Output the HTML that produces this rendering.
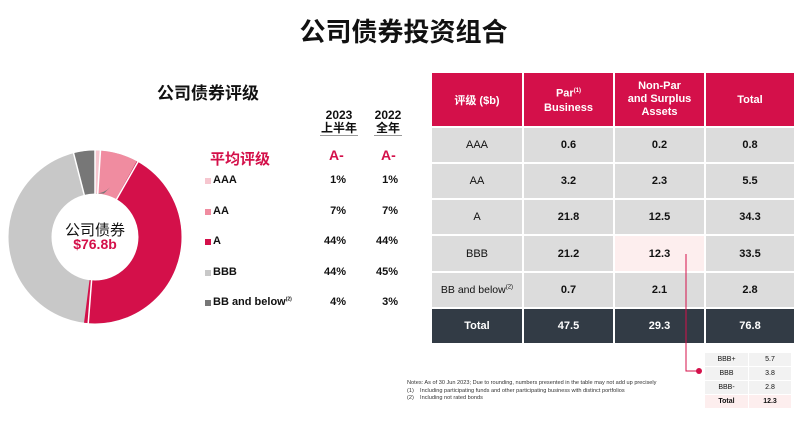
<!DOCTYPE html>
<html><head><meta charset="utf-8"><style>
*{margin:0;padding:0;box-sizing:border-box}
body{width:807px;height:421px;background:#fff;position:relative;overflow:hidden;font-family:"Liberation Sans","Noto Sans CJK SC",sans-serif;color:#111}
.a{position:absolute;white-space:nowrap}
.b{font-weight:bold}
.sq{position:absolute;width:6px;height:6px}
.c{position:absolute;display:flex;align-items:center;justify-content:center;text-align:center;font-size:11px}
.r{position:absolute;width:48px;text-align:right;font-size:11px;font-weight:bold}
</style></head><body>
<div class="a b" style="left:0;width:807px;text-align:center;top:12px;font-size:26px">公司债券投资组合</div>
<div class="a b" style="left:157px;top:79px;font-size:17px">公司债券评级</div>

<svg class="a" style="left:0;top:0" width="200" height="340" viewBox="0 0 200 340">
<g transform="rotate(-90 95 237)" fill="none" stroke-width="43">
<circle cx="95" cy="237" r="65" stroke="#c8c8c8" stroke-dasharray="408.4 0"/>
<circle cx="95" cy="237" r="65" stroke="#f6c6cf" stroke-dasharray="4.08 404.3" stroke-dashoffset="0"/>
<circle cx="95" cy="237" r="65" stroke="#f08ca0" stroke-dasharray="28.6 379.8" stroke-dashoffset="-4.08"/>
<circle cx="95" cy="237" r="65" stroke="#d4104a" stroke-dasharray="179.7 228.7" stroke-dashoffset="-32.7"/>
<circle cx="95" cy="237" r="65" stroke="#777" stroke-dasharray="16.3 392.1" stroke-dashoffset="-392.1"/>
</g>
<g stroke="#fff" stroke-width="1.5">
<line x1="95" y1="237" x2="95" y2="148"/>
<line x1="95" y1="237" x2="100.6" y2="148.2"/>
<line x1="95" y1="237" x2="139" y2="160"/>
<line x1="95" y1="237" x2="88" y2="326"/>
<line x1="95" y1="237" x2="73" y2="151"/>
</g>
<circle cx="95" cy="237" r="43" fill="#fff"/>
</svg>
<div class="a" style="left:55px;width:80px;text-align:center;top:219px;font-size:15px">公司债券</div>
<div class="a b" style="left:55px;width:80px;text-align:center;top:236px;font-size:14px;color:#d4104a">$76.8b</div>

<div class="a b" style="left:320px;width:38px;text-align:center;top:109px;font-size:12px;line-height:13px;border-bottom:1px solid #999">2023<br>上半年</div>
<div class="a b" style="left:374px;width:28px;text-align:center;top:109px;font-size:12px;line-height:13px;border-bottom:1px solid #999">2022<br>全年</div>
<div class="a b" style="left:210px;top:148px;font-size:15px;color:#d4104a">平均评级</div>
<div class="a b" style="left:329px;top:147px;font-size:14px;color:#d4104a">A-</div>
<div class="a b" style="left:381px;top:147px;font-size:14px;color:#d4104a">A-</div>

<div class="sq" style="left:205px;top:178px;background:#f6c6cf"></div>
<div class="sq" style="left:205px;top:209px;background:#f08ca0"></div>
<div class="sq" style="left:205px;top:239px;background:#d4104a"></div>
<div class="sq" style="left:205px;top:270px;background:#c8c8c8"></div>
<div class="sq" style="left:205px;top:300px;background:#777"></div>
<div class="a b" style="left:213px;top:174px;font-size:11px">AAA</div>
<div class="a b" style="left:213px;top:205px;font-size:11px">AA</div>
<div class="a b" style="left:213px;top:235px;font-size:11px">A</div>
<div class="a b" style="left:213px;top:266px;font-size:11px">BBB</div>
<div class="a b" style="left:213px;top:296px;font-size:11px">BB and below<sup style="font-size:5px">(2)</sup></div>

<div class="r" style="left:298px;top:174px">1%</div>
<div class="r" style="left:298px;top:205px">7%</div>
<div class="r" style="left:298px;top:235px">44%</div>
<div class="r" style="left:298px;top:266px">44%</div>
<div class="r" style="left:298px;top:296px">4%</div>
<div class="r" style="left:350px;top:174px">1%</div>
<div class="r" style="left:350px;top:205px">7%</div>
<div class="r" style="left:350px;top:235px">44%</div>
<div class="r" style="left:350px;top:266px">45%</div>
<div class="r" style="left:350px;top:296px">3%</div>

<!-- main table -->
<div class="c b" style="left:432px;top:73px;width:90px;height:53px;background:#d4104a;color:#fff"><span>评级 ($b)</span></div>
<div class="c b" style="left:524px;top:73px;width:89px;height:53px;background:#d4104a;color:#fff"><span style="line-height:14px">Par<sup style="font-size:6px">(1)</sup><br>Business</span></div>
<div class="c b" style="left:615px;top:73px;width:89px;height:53px;background:#d4104a;color:#fff"><span style="line-height:13px">Non-Par<br>and Surplus<br>Assets</span></div>
<div class="c b" style="left:706px;top:73px;width:88px;height:53px;background:#d4104a;color:#fff"><span>Total</span></div>

<div class="c" style="left:432px;top:128px;width:90px;height:34px;background:#dcdcdc">AAA</div>
<div class="c b" style="left:524px;top:128px;width:89px;height:34px;background:#dcdcdc">0.6</div>
<div class="c b" style="left:615px;top:128px;width:89px;height:34px;background:#dcdcdc">0.2</div>
<div class="c b" style="left:706px;top:128px;width:88px;height:34px;background:#dcdcdc">0.8</div>

<div class="c" style="left:432px;top:164px;width:90px;height:34px;background:#dcdcdc">AA</div>
<div class="c b" style="left:524px;top:164px;width:89px;height:34px;background:#dcdcdc">3.2</div>
<div class="c b" style="left:615px;top:164px;width:89px;height:34px;background:#dcdcdc">2.3</div>
<div class="c b" style="left:706px;top:164px;width:88px;height:34px;background:#dcdcdc">5.5</div>

<div class="c" style="left:432px;top:200px;width:90px;height:34px;background:#dcdcdc">A</div>
<div class="c b" style="left:524px;top:200px;width:89px;height:34px;background:#dcdcdc">21.8</div>
<div class="c b" style="left:615px;top:200px;width:89px;height:34px;background:#dcdcdc">12.5</div>
<div class="c b" style="left:706px;top:200px;width:88px;height:34px;background:#dcdcdc">34.3</div>

<div class="c" style="left:432px;top:236px;width:90px;height:35px;background:#dcdcdc">BBB</div>
<div class="c b" style="left:524px;top:236px;width:89px;height:35px;background:#dcdcdc">21.2</div>
<div class="c b" style="left:615px;top:236px;width:89px;height:35px;background:#fdeeee">12.3</div>
<div class="c b" style="left:706px;top:236px;width:88px;height:35px;background:#dcdcdc">33.5</div>

<div class="c" style="left:432px;top:273px;width:90px;height:34px;background:#dcdcdc;font-size:10.5px"><span>BB and below<sup style="font-size:6px">(2)</sup></span></div>
<div class="c b" style="left:524px;top:273px;width:89px;height:34px;background:#dcdcdc">0.7</div>
<div class="c b" style="left:615px;top:273px;width:89px;height:34px;background:#dcdcdc">2.1</div>
<div class="c b" style="left:706px;top:273px;width:88px;height:34px;background:#dcdcdc">2.8</div>

<div class="c b" style="left:432px;top:309px;width:90px;height:34px;background:#323b45;color:#fff">Total</div>
<div class="c b" style="left:524px;top:309px;width:89px;height:34px;background:#323b45;color:#fff">47.5</div>
<div class="c b" style="left:615px;top:309px;width:89px;height:34px;background:#323b45;color:#fff">29.3</div>
<div class="c b" style="left:706px;top:309px;width:88px;height:34px;background:#323b45;color:#fff">76.8</div>

<svg class="a" style="left:0;top:0" width="807" height="421">
<polyline points="686,254 686,371 699,371" fill="none" stroke="#d4104a" stroke-width="1"/>
<circle cx="699" cy="371" r="3" fill="#d4104a"/>
</svg>

<!-- small table -->
<div class="c" style="left:705px;top:353px;width:43px;height:13px;background:#f2f2f2;font-size:7px">BBB+</div>
<div class="c" style="left:749px;top:353px;width:42px;height:13px;background:#f2f2f2;font-size:7px">5.7</div>
<div class="c" style="left:705px;top:367px;width:43px;height:13px;background:#f2f2f2;font-size:7px">BBB</div>
<div class="c" style="left:749px;top:367px;width:42px;height:13px;background:#f2f2f2;font-size:7px">3.8</div>
<div class="c" style="left:705px;top:381px;width:43px;height:13px;background:#f2f2f2;font-size:7px">BBB-</div>
<div class="c" style="left:749px;top:381px;width:42px;height:13px;background:#f2f2f2;font-size:7px">2.8</div>
<div class="c b" style="left:705px;top:395px;width:43px;height:13px;background:#fdeeee;font-size:7px">Total</div>
<div class="c b" style="left:749px;top:395px;width:42px;height:13px;background:#fdeeee;font-size:7px">12.3</div>

<div class="a" style="left:407px;top:380px;font-size:5.6px;line-height:7.5px;color:#333">Notes: As of 30 Jun 2023; Due to rounding, numbers presented in the table may not add up precisely<br>(1)&nbsp;&nbsp;&nbsp;&nbsp;Including participating funds and other participating business with distinct portfolios<br>(2)&nbsp;&nbsp;&nbsp;&nbsp;Including not rated bonds</div>
</body></html>
